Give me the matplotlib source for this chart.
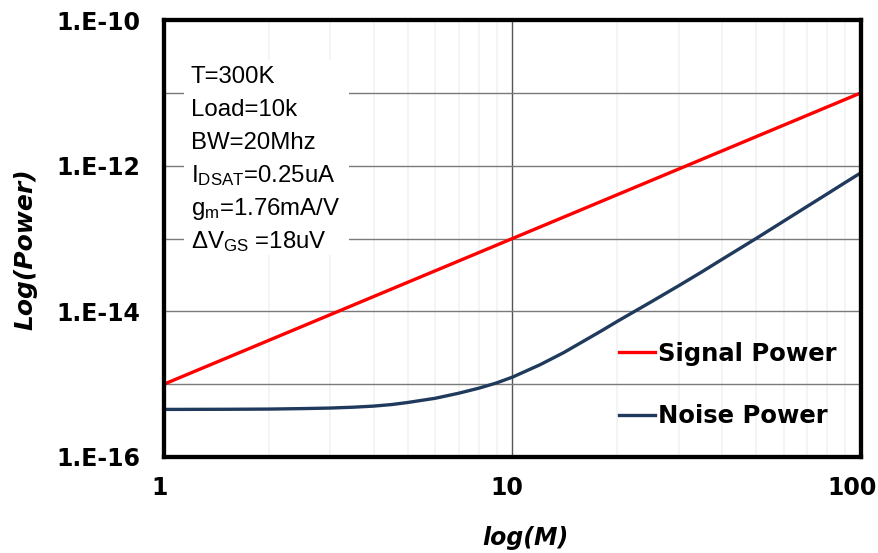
import matplotlib
matplotlib.use("Agg")
import matplotlib.pyplot as plt
from matplotlib.patches import Rectangle
from matplotlib.transforms import ScaledTranslation

# ---- data ----
m_signal = [1, 2, 5, 10, 20, 50, 100]
signal_power = [1.0e-15, 4.0e-15, 2.5e-14, 1.0e-13, 4.0e-13, 2.5e-12, 1.0e-11]

m_noise = [1, 1.5, 2, 2.5, 3, 3.5, 4, 4.5, 5, 6, 7, 8, 9, 10, 12, 14, 16, 18, 20,
           25, 30, 35, 40, 50, 60, 70, 80, 90, 100]
noise_power = [4.5e-16, 4.52e-16, 4.55e-16, 4.62e-16, 4.7e-16, 4.83e-16, 5.0e-16,
               5.25e-16, 5.6e-16, 6.4e-16, 7.5e-16, 8.8e-16, 1.04e-15, 1.25e-15,
               1.85e-15, 2.7e-15, 3.9e-15, 5.4e-15, 7.3e-15, 1.35e-14, 2.25e-14,
               3.5e-14, 5.2e-14, 1.0e-13, 1.73e-13, 2.75e-13, 4.1e-13, 5.85e-13,
               8.0e-13]

x_ticks = [1, 10, 100]
x_tick_labels = ["1", "10", "100"]
y_ticks = [1e-16, 1e-15, 1e-14, 1e-13, 1e-12, 1e-11, 1e-10]
y_tick_labels = ["1.E-16", "", "1.E-14", "", "1.E-12", "", "1.E-10"]

param_lines = ["T=300K", "Load=10k", "BW=20Mhz",
               r"I$_{\mathrm{DSAT}}$=0.25uA", r"g$_{\mathrm{m}}$=1.76mA/V",
               r"ΔV$_{\mathrm{GS}}$ =18uV"]
series_labels = ["Signal Power", "Noise Power"]

# ---- style ----
plt.rcParams["mathtext.fontset"] = "custom"
plt.rcParams["mathtext.rm"] = "Liberation Sans"
plt.rcParams["mathtext.it"] = "Liberation Sans:italic"
plt.rcParams["mathtext.bf"] = "Liberation Sans:bold"

W, H = 879, 553
fig = plt.figure(figsize=(W / 100, H / 100), dpi=100)
ax = fig.add_axes([164 / W, 1 - 457 / H, (861 - 164) / W, (457 - 20) / H])

ax.set_xscale("log")
ax.set_yscale("log")
ax.set_xlim(1, 100)
ax.set_ylim(1e-16, 1e-10)

# grid
minor_x = [2, 3, 4, 5, 6, 7, 8, 9, 20, 30, 40, 50, 60, 70, 80, 90]
for xv in minor_x:
    ax.axvline(xv, color="#f2f2f2", lw=1.2, zorder=0)
ax.axvline(10, color="#555555", lw=1.0, zorder=1)
for yv in y_ticks[1:-1]:
    ax.axhline(yv, color="#7a7a7a", lw=1.0, zorder=1)

# lines
l1, = ax.plot(m_signal, signal_power, color="#ff0000", lw=2.4, zorder=4,
              label=series_labels[0])
l2, = ax.plot(m_noise, noise_power, color="#1f3a5c", lw=2.4, zorder=4,
              label=series_labels[1])

# ticks
ax.set_xticks(x_ticks)
ax.set_xticklabels(x_tick_labels)
ax.set_yticks(y_ticks)
ax.set_yticklabels(y_tick_labels)
ax.minorticks_off()
ax.tick_params(axis="both", length=0, labelsize=17)
ax.tick_params(axis="y", pad=17)
ax.tick_params(axis="x", pad=14)
for lab in ax.get_xticklabels() + ax.get_yticklabels():
    lab.set_fontweight("bold")
x_shifts = [-4, -6, -9]
for lab, dx in zip(ax.get_xticklabels(), x_shifts):
    lab.set_transform(lab.get_transform() + ScaledTranslation(dx / 100, 0, fig.dpi_scale_trans))

for sp in ax.spines.values():
    sp.set_linewidth(3.1)
    sp.set_color("black")
    sp.set_zorder(6)

fig.text(525 / W, 1 - 538 / H, "log(M)", fontsize=17, fontweight="bold",
         style="italic", ha="center", va="center")
fig.text(25 / W, 1 - 249 / H, "Log(Power)", fontsize=18, fontweight="bold",
         style="italic", ha="center", va="center", rotation=90)

# parameter box
ax.add_patch(Rectangle((184 / W, 1 - 255 / H), (349 - 184) / W, (255 - 60) / H,
                       transform=fig.transFigure, facecolor="white",
                       edgecolor="none", zorder=2))
y0 = 77
for i, txt in enumerate(param_lines):
    fig.text(191 / W, 1 - (y0 + 33 * i) / H, txt, fontsize=17.3,
             family="Liberation Sans", va="center", ha="left", zorder=3)

leg = ax.legend(handles=[l1, l2], loc="upper left",
                bbox_to_anchor=(597 / W, 1 - 320 / H),
                bbox_transform=fig.transFigure, frameon=False,
                handlelength=1.5, handletextpad=0.1, labelspacing=1.57,
                prop={"size": 17.5, "weight": "bold"})

fig.savefig("out.png", dpi=100)
